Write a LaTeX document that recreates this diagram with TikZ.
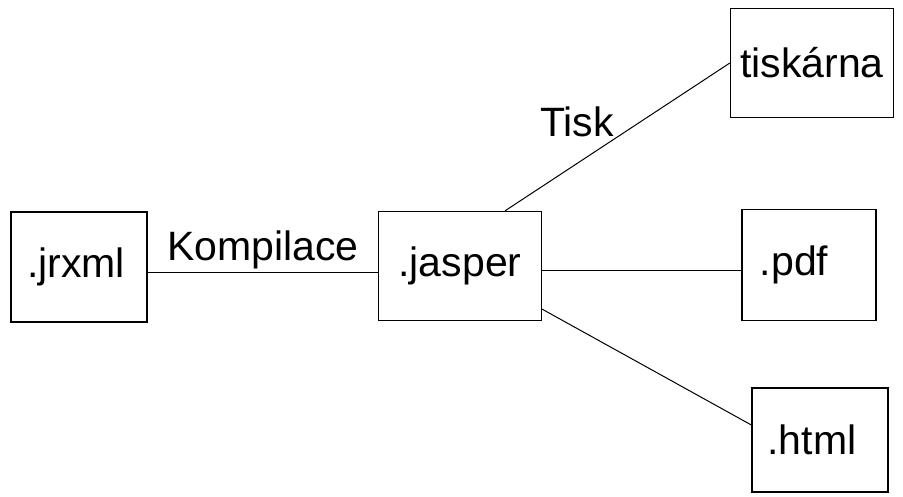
\documentclass[tikz,border=0pt]{standalone}
\usepackage{fontspec}
\setmainfont{Liberation Sans}
\usetikzlibrary{positioning}

\begin{document}
\begin{tikzpicture}[x=1pt, y=-1pt,
  filebox/.style={draw, line width=1.3pt, inner sep=0pt,
    font=\fontsize{41}{48}\selectfont},
  link/.style={line width=1pt},
  linklabel/.style={font=\fontsize{41}{48}\selectfont, inner sep=2pt}]
\useasboundingbox (0,0) rectangle (903,496);
\node[filebox, minimum width=136pt, minimum height=110pt] (jrxml)    at (79,267)  {.jrxml\kern6pt};
\node[filebox, minimum width=163pt, minimum height=109pt] (jasper)   at (460,266) {.jasper};
\node[filebox, minimum width=163pt, minimum height=109pt] (tiskarna) at (812,63)  {tiskárna};
\node[filebox, minimum width=134pt, minimum height=111pt] (pdf)      at (809,265) {.pdf\kern30pt};
\node[filebox, minimum width=136pt, minimum height=104pt] (html)     at (820,440) {.html\kern16pt};
\draw[link]
       ([yshift=-5pt]jrxml.east)
  -- node[linklabel, above]{Kompilace} ([yshift=-6pt]jasper.west);
\draw[link]
       ([xshift=45pt]jasper.north)
  -- node[linklabel, pos=0.32, above=24pt]{Tisk} (tiskarna.west);
\draw[link]
       ([yshift=-4pt]jasper.east)
  -- ([yshift=-5pt]pdf.west);
\draw[link]
       ([yshift=12pt]jasper.south east)
  -- ([yshift=15pt]html.west);
\end{tikzpicture}
\end{document}
